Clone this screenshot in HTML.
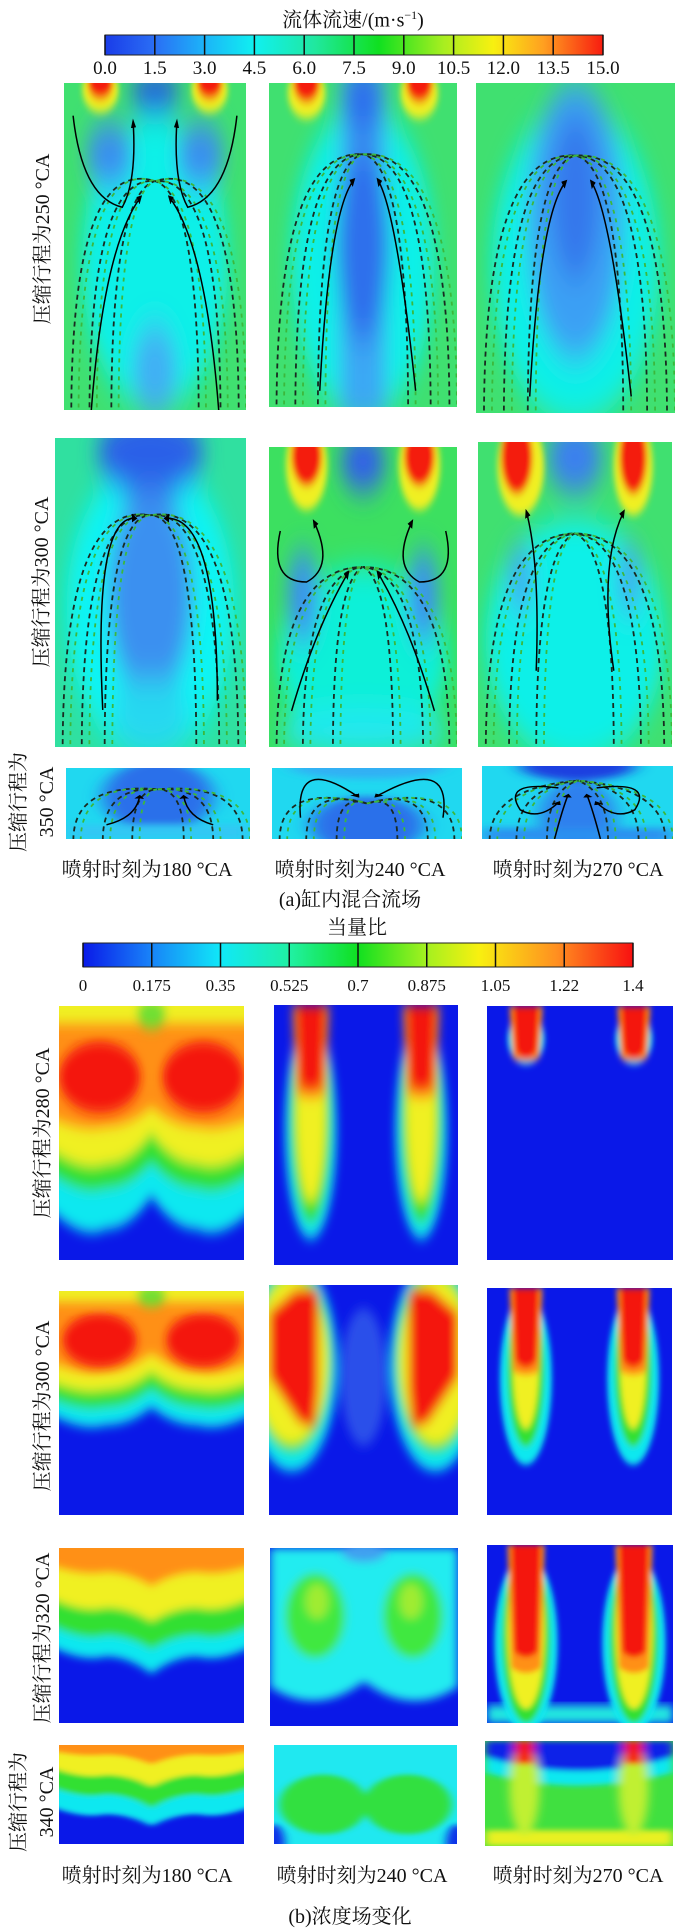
<!DOCTYPE html>
<html><head><meta charset="utf-8">
<style>
html,body{margin:0;padding:0;background:#fff;}
body{width:676px;height:1931px;position:relative;overflow:hidden;font-family:"Liberation Serif","Noto Serif CJK SC",serif;color:#111;}
.t{position:absolute;white-space:nowrap;font-size:20px;line-height:1;}
.c{transform:translateX(-50%);}
.v{position:absolute;white-space:nowrap;font-size:20px;line-height:1;transform:translate(-50%,-50%) rotate(-90deg);}
svg text{font-family:"Liberation Serif","Noto Serif CJK SC",serif;}
</style></head>
<body>
<svg id="main" width="676" height="1931" style="position:absolute;left:0;top:0">
<defs>
<linearGradient id="jet1" x1="0" x2="1" y1="0" y2="0">
<stop offset="0" stop-color="#1a3ce8"/><stop offset="0.1" stop-color="#2a6ef5"/><stop offset="0.2" stop-color="#1cb4f8"/>
<stop offset="0.3" stop-color="#10f0f0"/><stop offset="0.42" stop-color="#20e8a0"/><stop offset="0.55" stop-color="#10e020"/>
<stop offset="0.68" stop-color="#a8ee20"/><stop offset="0.78" stop-color="#f8f010"/><stop offset="0.88" stop-color="#ffa020"/>
<stop offset="1" stop-color="#f81c10"/></linearGradient>
<linearGradient id="jet2" x1="0" x2="1" y1="0" y2="0">
<stop offset="0" stop-color="#0a1ae8"/><stop offset="0.12" stop-color="#1880f8"/><stop offset="0.25" stop-color="#10e8f8"/>
<stop offset="0.38" stop-color="#20f0a0"/><stop offset="0.5" stop-color="#10e020"/><stop offset="0.62" stop-color="#a0f020"/>
<stop offset="0.72" stop-color="#f8f010"/><stop offset="0.86" stop-color="#ff9020"/><stop offset="1" stop-color="#f81010"/></linearGradient>
<filter id="b3" x="-20%" y="-20%" width="140%" height="140%"><feGaussianBlur stdDeviation="2.5"/></filter>
<filter id="b2" x="-20%" y="-20%" width="140%" height="140%"><feGaussianBlur stdDeviation="1.5"/></filter>
<filter id="b6" x="-20%" y="-20%" width="140%" height="140%"><feGaussianBlur stdDeviation="5"/></filter>
<marker id="ah" viewBox="0 0 10 10" refX="6" refY="5" markerWidth="5" markerHeight="5" orient="auto"><path d="M0,0 L10,5 L0,10 z" fill="#000"/></marker>
</defs>
<g id="cb1"></g>
<g id="cb2"></g>

<!-- FLOW PANELS -->
<svg id="A11" x="64" y="83" width="182" height="327" viewBox="0 0 100 100" preserveAspectRatio="none">
<rect width="100" height="100" fill="#40e070"/>
<g filter="url(#b6)"><ellipse cx="50" cy="55" rx="40" ry="45" fill="#10f0e8"/><ellipse cx="25" cy="22" rx="13" ry="10" fill="#3a8ef0"/><ellipse cx="75" cy="22" rx="13" ry="10" fill="#3a8ef0"/><ellipse cx="50" cy="3" rx="14" ry="6" fill="#2050e8"/><ellipse cx="50" cy="88" rx="12" ry="14" fill="#40b0f4"/></g>
<g filter="url(#b2)"><ellipse cx="20" cy="2" rx="10" ry="7" fill="#f0f020"/><ellipse cx="20" cy="0" rx="7" ry="5" fill="#f41c10"/><ellipse cx="80" cy="2" rx="10" ry="7" fill="#f0f020"/><ellipse cx="80" cy="0" rx="7" ry="5" fill="#f41c10"/></g>
<g class="stream" data-k="a"></g></svg>
<svg id="A12" x="269" y="83" width="188" height="324" viewBox="0 0 100 100" preserveAspectRatio="none">
<rect width="100" height="100" fill="#40e070"/>
<g filter="url(#b6)"><ellipse cx="50" cy="55" rx="38" ry="48" fill="#10f0e8"/><rect x="38" y="-5" width="24" height="110" fill="#3aa8f4"/><ellipse cx="50" cy="50" rx="14" ry="30" fill="#2e70ec"/><ellipse cx="50" cy="5" rx="10" ry="12" fill="#2e70ec"/></g>
<g filter="url(#b2)"><ellipse cx="20" cy="3" rx="10" ry="8" fill="#f0f020"/><ellipse cx="20" cy="0" rx="7" ry="6" fill="#f41c10"/><ellipse cx="80" cy="3" rx="10" ry="8" fill="#f0f020"/><ellipse cx="80" cy="0" rx="7" ry="6" fill="#f41c10"/></g>
<g class="stream" data-k="b"></g></svg>
<svg id="A13" x="476" y="83" width="199" height="330" viewBox="0 0 100 100" preserveAspectRatio="none">
<rect width="100" height="100" fill="#40e070"/>
<g filter="url(#b6)"><ellipse cx="50" cy="55" rx="42" ry="48" fill="#10f0e8"/><ellipse cx="50" cy="42" rx="24" ry="42" fill="#3aa0f4"/><ellipse cx="50" cy="35" rx="12" ry="25" fill="#3478ec"/></g>
<g class="stream" data-k="b"></g></svg>

<svg id="A21" x="55" y="438" width="191" height="309" viewBox="0 0 100 100" preserveAspectRatio="none">
<rect width="100" height="100" fill="#30e0a0"/>
<g filter="url(#b6)"><ellipse cx="50" cy="55" rx="44" ry="48" fill="#08f4f4"/><ellipse cx="50" cy="5" rx="28" ry="14" fill="#2a60e8"/><ellipse cx="50" cy="50" rx="22" ry="34" fill="#3a90f0"/><ellipse cx="50" cy="90" rx="20" ry="12" fill="#28d8f0"/></g>
<g class="stream" data-k="c"></g></svg>
<svg id="A22" x="269" y="447" width="188" height="300" viewBox="0 0 100 100" preserveAspectRatio="none">
<rect width="100" height="100" fill="#3ce060"/>
<g filter="url(#b6)"><ellipse cx="50" cy="70" rx="45" ry="30" fill="#10f0d8"/><ellipse cx="50" cy="5" rx="12" ry="10" fill="#3060e8"/><ellipse cx="18" cy="50" rx="8" ry="16" fill="#3a90f0"/><ellipse cx="82" cy="50" rx="8" ry="16" fill="#3a90f0"/><ellipse cx="50" cy="95" rx="45" ry="8" fill="#20e8f0"/></g>
<g filter="url(#b2)"><ellipse cx="20" cy="6" rx="11" ry="15" fill="#f0f020"/><ellipse cx="20" cy="3" rx="8" ry="10" fill="#f41c10"/><ellipse cx="80" cy="6" rx="11" ry="15" fill="#f0f020"/><ellipse cx="80" cy="3" rx="8" ry="10" fill="#f41c10"/></g>
<g class="stream" data-k="d"></g></svg>
<svg id="A23" x="478" y="442" width="194" height="305" viewBox="0 0 100 100" preserveAspectRatio="none">
<rect width="100" height="100" fill="#40e070"/>
<g filter="url(#b6)"><ellipse cx="50" cy="65" rx="46" ry="40" fill="#10f0e8"/><ellipse cx="50" cy="5" rx="14" ry="12" fill="#3a80ee"/><ellipse cx="22" cy="45" rx="6" ry="12" fill="#40a8f2"/><ellipse cx="78" cy="45" rx="6" ry="12" fill="#40a8f2"/></g>
<g filter="url(#b2)"><ellipse cx="22" cy="8" rx="12" ry="16" fill="#f0f020"/><ellipse cx="20" cy="5" rx="8" ry="12" fill="#f41c10"/><ellipse cx="80" cy="8" rx="10" ry="16" fill="#f0f020"/><ellipse cx="80" cy="5" rx="7" ry="12" fill="#f41c10"/></g>
<g class="stream" data-k="e"></g></svg>

<svg id="A31" x="66" y="768" width="184" height="71" viewBox="0 0 100 100" preserveAspectRatio="none">
<rect width="100" height="100" fill="#20d8f0"/>
<g filter="url(#b6)"><ellipse cx="50" cy="40" rx="30" ry="50" fill="#2a70ea"/><rect x="0" y="80" width="100" height="20" fill="#30c8f4"/></g>
<g class="stream" data-k="f"></g></svg>
<svg id="A32" x="272" y="768" width="190" height="71" viewBox="0 0 100 100" preserveAspectRatio="none">
<rect width="100" height="100" fill="#20d8f0"/>
<g filter="url(#b6)"><ellipse cx="50" cy="80" rx="30" ry="40" fill="#2a70ea"/><ellipse cx="50" cy="0" rx="40" ry="15" fill="#30b0f4"/></g>
<g class="stream" data-k="g"></g></svg>
<svg id="A33" x="482" y="766" width="191" height="73" viewBox="0 0 100 100" preserveAspectRatio="none">
<rect width="100" height="100" fill="#20d8f0"/>
<g filter="url(#b6)"><ellipse cx="50" cy="0" rx="30" ry="20" fill="#1a40e0"/><ellipse cx="50" cy="70" rx="20" ry="50" fill="#2e80ee"/><rect x="0" y="85" width="100" height="20" fill="#2a90f0"/></g>
<g class="stream" data-k="h"></g></svg>

<!-- CONCENTRATION PANELS -->
<svg id="B11" x="59" y="1006" width="185" height="254" viewBox="0 0 100 100" preserveAspectRatio="none">
<rect width="100" height="100" fill="#0a18e8"/><g filter="url(#b3)" class="layers" data-l="cyan:88,75,80|green:72,62,66|yellow:62,50,56|orange:48,40,44"></g>
<g filter="url(#b3)"><rect x="-5" y="-5" width="110" height="12" fill="#f0f020"/><ellipse cx="50" cy="3" rx="8" ry="6" fill="#70e030"/><ellipse cx="22" cy="28" rx="22" ry="14" fill="#f41410"/><ellipse cx="78" cy="28" rx="22" ry="14" fill="#f41410"/></g></svg>
<svg id="B12" x="274" y="1005" width="184" height="260" viewBox="0 0 100 100" preserveAspectRatio="none">
<rect width="100" height="100" fill="#0a18e8"/><g filter="url(#b3)" class="plumes" data-p="20,80|48,42,14|44,40,11|40,36,8|30,8"></g></svg>
<svg id="B13" x="487" y="1006" width="186" height="254" viewBox="0 0 100 100" preserveAspectRatio="none">
<rect width="100" height="100" fill="#0a18e8"/><g filter="url(#b2)" class="plumes" data-p="21,79|13,10,10|11,8,8|9,6,6|18,7"></g></svg>

<svg id="B21" x="59" y="1291" width="185" height="224" viewBox="0 0 100 100" preserveAspectRatio="none">
<rect width="100" height="100" fill="#0a18e8"/><g filter="url(#b3)" class="layers" data-l="cyan:60,52,55|green:52,44,48|yellow:44,36,40|orange:36,28,32"></g>
<g filter="url(#b3)"><rect x="-5" y="-5" width="110" height="10" fill="#f0f020"/><ellipse cx="50" cy="2" rx="8" ry="5" fill="#70e030"/><ellipse cx="22" cy="22" rx="20" ry="12" fill="#f41410"/><ellipse cx="78" cy="22" rx="20" ry="12" fill="#f41410"/></g></svg>
<svg id="B22" x="269" y="1285" width="189" height="230" viewBox="0 0 100 100" preserveAspectRatio="none">
<rect width="100" height="100" fill="#0a18e8"/>
<g filter="url(#b3)"><ellipse cx="50" cy="40" rx="12" ry="30" fill="#2a50ea"/>
<ellipse cx="12" cy="35" rx="24" ry="46" fill="#10e8f0"/><ellipse cx="88" cy="35" rx="24" ry="46" fill="#10e8f0"/>
<ellipse cx="12" cy="33" rx="21" ry="40" fill="#30e030"/><ellipse cx="88" cy="33" rx="21" ry="40" fill="#30e030"/>
<ellipse cx="12" cy="33" rx="19" ry="36" fill="#f0f020"/><ellipse cx="88" cy="33" rx="19" ry="36" fill="#f0f020"/>
<path d="M0,12 L14,2 L26,2 L26,45 L24,62 L16,60 L0,40 Z" fill="#f41410"/><path d="M100,12 L86,2 L74,2 L74,45 L76,62 L84,60 L100,40 Z" fill="#f41410"/></g></svg>
<svg id="B23" x="487" y="1288" width="185" height="227" viewBox="0 0 100 100" preserveAspectRatio="none">
<rect width="100" height="100" fill="#0a18e8"/><g filter="url(#b2)" class="plumes" data-p="21,79|40,38,14|36,34,10|32,30,7|32,7"></g></svg>

<svg id="B31" x="59" y="1548" width="185" height="175" viewBox="0 0 100 100" preserveAspectRatio="none">
<rect width="100" height="100" fill="#0a18e8"/><g filter="url(#b3)" class="layers" data-l="cyan:62,72,56|green:50,58,44|yellow:34,42,28|orange:14,22,10"></g></svg>
<svg id="B32" x="270" y="1548" width="188" height="178" viewBox="0 0 100 100" preserveAspectRatio="none">
<rect width="100" height="100" fill="#0a18e8"/>
<g filter="url(#b3)"><path d="M0,0 L100,0 L100,78 Q75,95 50,75 Q25,95 0,78 Z" fill="#20ecf0"/><ellipse cx="50" cy="2" rx="12" ry="6" fill="#40a0f0"/>
<ellipse cx="24" cy="38" rx="16" ry="24" fill="#40e840"/><ellipse cx="76" cy="38" rx="16" ry="24" fill="#40e840"/>
<ellipse cx="25" cy="30" rx="6" ry="10" fill="#a0ec30"/><ellipse cx="75" cy="30" rx="6" ry="10" fill="#a0ec30"/></g></svg>
<svg id="B33" x="487" y="1545" width="186" height="178" viewBox="0 0 100 100" preserveAspectRatio="none">
<rect width="100" height="100" fill="#0a18e8"/>
<g filter="url(#b3)"><rect x="0" y="90" width="100" height="10" fill="#20e8e0"/></g>
<g filter="url(#b2)" class="plumes" data-p="21,79|55,50,17|52,48,13|48,44,10|60,8"></g></svg>

<svg id="B41" x="59" y="1745" width="185" height="99" viewBox="0 0 100 100" preserveAspectRatio="none">
<rect width="100" height="100" fill="#0a18e8"/><g filter="url(#b3)" class="layers" data-l="cyan:70,82,62|green:50,64,42|yellow:30,42,22|orange:10,20,6"></g></svg>
<svg id="B42" x="274" y="1745" width="183" height="99" viewBox="0 0 100 100" preserveAspectRatio="none">
<rect width="100" height="100" fill="#20e8f0"/>
<g filter="url(#b3)"><ellipse cx="27" cy="60" rx="24" ry="30" fill="#30e040"/><ellipse cx="73" cy="60" rx="24" ry="30" fill="#30e040"/><ellipse cx="0" cy="100" rx="6" ry="20" fill="#1030e8"/><ellipse cx="100" cy="100" rx="6" ry="20" fill="#1030e8"/></g></svg>
<svg id="B43" x="485" y="1741" width="188" height="105" viewBox="0 0 100 100" preserveAspectRatio="none">
<rect width="100" height="100" fill="#40e040"/>
<g filter="url(#b3)"><path d="M0,0 L100,0 L100,30 Q50,55 0,30 Z" fill="#10e8f0"/><path d="M0,0 L100,0 L100,15 Q50,42 0,15 Z" fill="#0a20e8"/>
<rect x="0" y="85" width="100" height="15" fill="#e8f020"/><ellipse cx="21" cy="45" rx="8" ry="45" fill="#c0f030"/><ellipse cx="79" cy="45" rx="8" ry="45" fill="#c0f030"/>
<rect x="16" y="0" width="10" height="22" fill="#f41410"/><rect x="74" y="0" width="10" height="22" fill="#f41410"/></g></svg>
</svg>

<div class="t c" style="left:353px;top:9px">流体流速/(m·s<sup style="font-size:12px">−1</sup>)</div>
<div class="t c" style="left:357px;top:918px">当量比</div>

<div class="v" style="left:43px;top:239px">压缩行程为250 °CA</div>
<div class="v" style="left:42px;top:582px">压缩行程为300 °CA</div>
<div class="v" style="left:19px;top:802px">压缩行程为</div>
<div class="v" style="left:47px;top:802px">350 °CA</div>
<div class="t c" style="left:147px;top:860px">喷射时刻为180 °CA</div>
<div class="t c" style="left:360px;top:860px">喷射时刻为240 °CA</div>
<div class="t c" style="left:578px;top:860px">喷射时刻为270 °CA</div>
<div class="t c" style="left:350px;top:890px">(a)缸内混合流场</div>

<div class="v" style="left:43px;top:1133px">压缩行程为280 °CA</div>
<div class="v" style="left:43px;top:1406px">压缩行程为300 °CA</div>
<div class="v" style="left:43px;top:1638px">压缩行程为320 °CA</div>
<div class="v" style="left:19px;top:1802px">压缩行程为</div>
<div class="v" style="left:47px;top:1802px">340 °CA</div>
<div class="t c" style="left:147px;top:1866px">喷射时刻为180 °CA</div>
<div class="t c" style="left:362px;top:1866px">喷射时刻为240 °CA</div>
<div class="t c" style="left:578px;top:1866px">喷射时刻为270 °CA</div>
<div class="t c" style="left:350px;top:1907px">(b)浓度场变化</div>

<script>
const velTicks = ["0.0","1.5","3.0","4.5","6.0","7.5","9.0","10.5","12.0","13.5","15.0"];
const velValues = [0,1.5,3,4.5,6,7.5,9,10.5,12,13.5,15];
const phiTicks = ["0","0.175","0.35","0.525","0.7","0.875","1.05","1.22","1.4"];
const phiValues = [0,0.175,0.35,0.525,0.7,0.875,1.05,1.225,1.4];
const NS="http://www.w3.org/2000/svg";
function mk(tag,attrs,parent){const e=document.createElementNS(NS,tag);for(const k in attrs)e.setAttribute(k,attrs[k]);parent.appendChild(e);return e;}

function colorbar(gid,grad,x0,x1,y0,y1,vals,labels,ly,fs){
  const g=document.getElementById(gid);
  const sx=v=>x0+(v-vals[0])/(vals[vals.length-1]-vals[0])*(x1-x0);
  const r=mk('rect',{x:x0,y:y0,width:x1-x0,height:y1-y0,fill:'url(#'+grad+')',stroke:'#222','stroke-width':1},g);
  
  
  vals.forEach((v,i)=>{
    const l=mk('line',{x1:sx(v),x2:sx(v),y1:y0,y2:y1,stroke:'#111','stroke-width':1.5},g);
    
    
    const t=mk('text',{x:sx(v),y:ly,'text-anchor':'middle','font-size':fs,fill:'#111'},g);
    t.textContent=labels[i];
    
    
  });
}
colorbar('cb1','jet1',105,603,35,55,velValues,velTicks,74,19);
colorbar('cb2','jet2',83,633,943,967,phiValues,phiTicks,991,17);

const lc={cyan:'#10e8f0',green:'#30e030',yellow:'#f0f020',orange:'#ff9018'};
document.querySelectorAll('.layers').forEach(g=>{
  g.getAttribute('data-l').split('|').forEach(s=>{
    const [c,v]=s.split(':');const [ys,yc,ye]=v.split(',').map(Number);
    const p=mk('path',{d:`M-5,-5 L105,-5 L105,${ye} Q87,${ys+(ys-ye)*0.6} 75,${ys} Q62,${ys} 50,${yc} Q38,${ys} 25,${ys} Q13,${ys+(ys-ye)*0.6} -5,${ye} Z`,fill:lc[c]},g);
    
    
  });
});
document.querySelectorAll('.plumes').forEach(g=>{
  const parts=g.getAttribute('data-p').split('|');
  const xs=parts[0].split(',').map(Number);
  const cols=['#10e8f0','#30e030','#f0f020'];
  xs.forEach(x=>{
    for(let i=0;i<3;i++){const [cy,ry,rx]=parts[i+1].split(',').map(Number);
      const e=mk('ellipse',{cx:x,cy:cy,rx:rx,ry:ry,fill:cols[i]},g);
      
      }
    const [h,w]=parts[4].split(',').map(Number);
    const o=mk('path',{d:`M${x-w-2},0 L${x+w+2},0 L${x+w},${h*1.15} Q${x},${h*1.25} ${x-w},${h*1.15} Z`,fill:'#ff9018'},g);
    
    
    const r=mk('path',{d:`M${x-w},0 L${x+w},0 L${x+w*0.8},${h} Q${x},${h+6} ${x-w*0.8},${h} Z`,fill:'#f41410'},g);
    
    
  });
});

const streamSets={
 a:{arch:[[4,22],[14,28],[26,34],[74,34],[86,28],[96,22]],top:30,arrows:[["M15,100 Q22,50 42,35","M85,100 Q78,50 58,35","M5,10 Q10,35 32,38 Q40,30 38,12","M95,10 Q90,35 68,38 Q60,30 62,12"]]},
 b:{arch:[[4,20],[14,22],[26,25],[74,25],[86,22],[96,20]],top:22,arrows:[["M27,95 Q32,40 45,30","M78,95 Q68,40 58,30"]]},
 c:{arch:[[4,20],[14,22],[26,25],[74,25],[86,22],[96,20]],top:25,arrows:[["M25,88 Q20,25 42,26","M85,85 Q85,25 58,26"]]},
 d:{arch:[[4,40],[18,42],[34,45],[66,45],[82,42],[96,40]],top:40,arrows:[["M12,88 Q25,60 42,42","M88,88 Q75,60 58,42","M6,28 Q0,45 20,45 Q35,40 24,25","M94,28 Q100,45 80,45 Q65,40 76,25"]]},
 e:{arch:[[4,30],[16,32],[30,35],[70,35],[84,32],[96,30]],top:30,arrows:[["M30,75 Q32,40 25,23","M70,75 Q62,40 75,23"]]},
 f:{arch:[[4,20],[20,25],[36,30],[64,30],[80,25],[96,20]],top:30,arrows:[["M22,80 Q38,70 40,40","M80,80 Q66,70 64,40"]]},
 g:{arch:[[4,20],[18,25],[34,35],[66,35],[82,25],[96,20]],top:50,arrows:[["M15,70 Q12,-20 45,40","M90,70 Q95,-20 55,40"]]},
 h:{arch:[[4,30],[18,30],[34,35],[66,35],[82,30],[96,30]],top:20,arrows:[["M40,30 Q10,20 20,60 Q30,75 40,50","M60,30 Q90,20 80,60 Q70,75 60,50","M38,100 Q42,60 45,40","M62,100 Q58,60 55,40"]]}
};
document.querySelectorAll('.stream').forEach(g=>{
  const s=streamSets[g.getAttribute('data-k')];
  s.arch.forEach(([x,t])=>{
    [['#1a2a20','5 4'],['#3cb83c','4 5']].forEach(([c,d],j)=>{
      const xo=x+(j?4:0);
      const p=mk('path',{d:`M${xo},102 Q${xo},${t} 50,${s.top}`,fill:'none',stroke:c,'stroke-width':1.8,'stroke-dasharray':d,'vector-effect':'non-scaling-stroke'},g);
      
      
    });
  });
  s.arrows[0].forEach(d=>{
    const p=mk('path',{d:d,fill:'none',stroke:'#000','stroke-width':1.5,'vector-effect':'non-scaling-stroke','marker-end':'url(#ah)'},g);
    
    
  });
});
</script>
</body></html>
